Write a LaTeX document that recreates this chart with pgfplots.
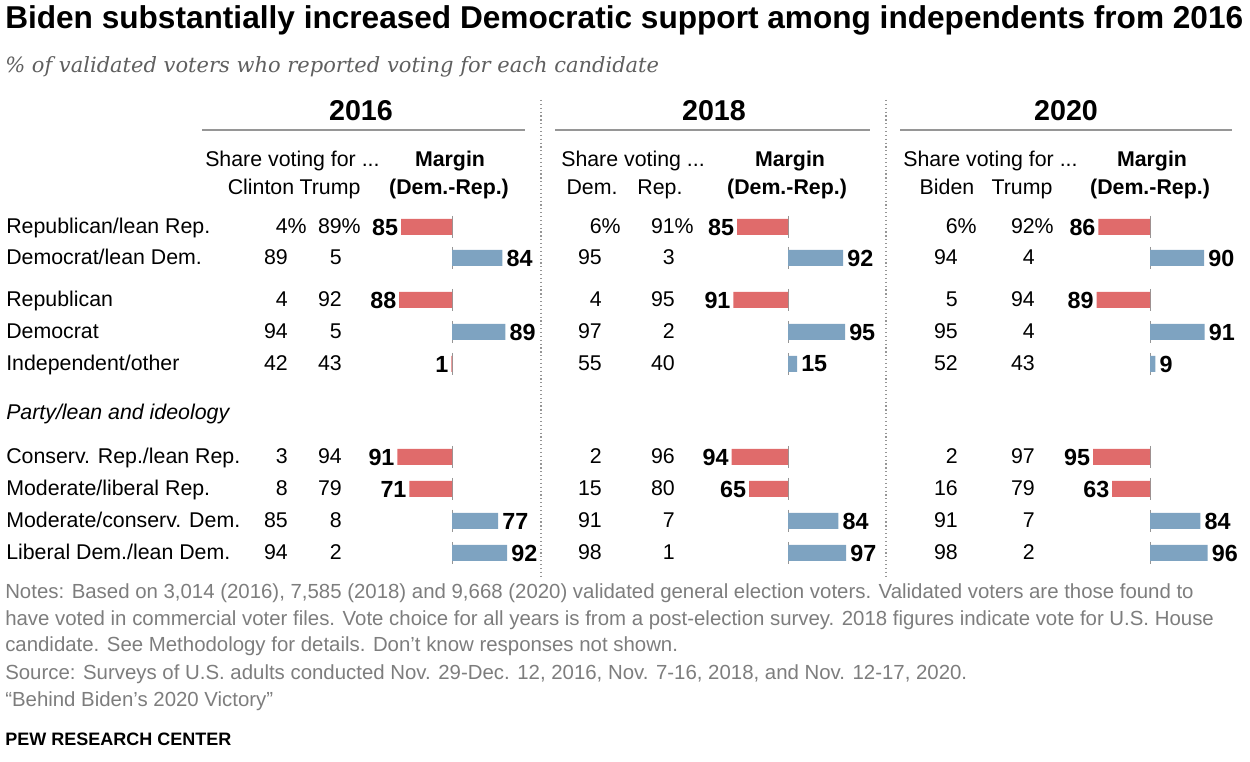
\documentclass[border=0pt]{standalone}
\usepackage{pgfplots}
\pgfplotsset{compat=1.18}
\usepackage{fontspec}
\setmainfont{Liberation Sans}
\newfontfamily\subfont{DejaVu Serif}
\definecolor{redb}{RGB}{224,107,107}
\definecolor{blueb}{RGB}{126,163,193}
\definecolor{notegray}{RGB}{125,125,125}
\definecolor{subgray}{RGB}{95,95,95}
\definecolor{rulegray}{RGB}{150,150,150}
\newcommand{\fs}[1]{\fontsize{#1}{#1}\selectfont}

\pgfplotstableread{
x y m
-85 -227 85
-88 -300 88
-1 -364 1
-91 -457 91
-71 -489 71
}\redA
\pgfplotstableread{
x y m
84 -258 84
89 -332 89
77 -521 77
92 -553 92
}\blueA
\pgfplotstableread{
x y m
-85 -227 85
-91 -300 91
-94 -457 94
-65 -489 65
}\redB
\pgfplotstableread{
x y m
92 -258 92
95 -332 95
15 -364 15
84 -521 84
97 -553 97
}\blueB
\pgfplotstableread{
x y m
-86 -227 86
-89 -300 89
-95 -457 95
-63 -489 63
}\redC
\pgfplotstableread{
x y m
90 -258 90
91 -332 91
9 -364 9
84 -521 84
96 -553 96
}\blueC

\pgfplotsset{
  marginaxis/.style={
    scale only axis, width=90pt, height=285pt,
    xmin=-100, xmax=100, ymin=-580, ymax=-200,
    hide axis, clip=false, anchor=south west
  },
  redbar/.style={xbar, bar shift=0pt, bar width=12pt, fill=redb, draw=none,
    point meta=explicit symbolic, nodes near coords,
    every node near coord/.append style={anchor=east, font=\fs{17.5pt}\bfseries, text=black, inner sep=2pt}},
  bluebar/.style={xbar, bar shift=0pt, bar width=12pt, fill=blueb, draw=none,
    point meta=explicit symbolic, nodes near coords,
    every node near coord/.append style={anchor=west, font=\fs{17.5pt}\bfseries, text=black, inner sep=3pt}},
}

\begin{document}
\begin{tikzpicture}
\begin{scope}[x=0.75pt,y=-0.75pt]
\useasboundingbox (0,0) rectangle (1250,762);

% title and subtitle
\node[anchor=base west, inner sep=0] at (5,29) {\fs{23.7pt}\bfseries Biden substantially increased Democratic support among independents from 2016};
\node[anchor=base west, inner sep=0, text=subgray] at (5,73) {\subfont\itshape\fs{15.75pt}\% of validated voters who reported voting for each candidate};

% separators
\draw[rulegray, line width=0.9pt, dotted] (541,100) -- (541,576);
\draw[rulegray, line width=0.9pt, dotted] (886,100) -- (886,576);

% year headers
\node[anchor=base, inner sep=0] at (361,121) {\fs{21.5pt}\bfseries 2016};
\node[anchor=base, inner sep=0] at (714,121) {\fs{21.5pt}\bfseries 2018};
\node[anchor=base, inner sep=0] at (1066,121) {\fs{21.5pt}\bfseries 2020};
\draw[rulegray, line width=1.5pt] (202,130) -- (525,130);
\draw[rulegray, line width=1.5pt] (555,130) -- (870,130);
\draw[rulegray, line width=1.5pt] (900,130) -- (1232,130);

% column headers
\begin{scope}[every node/.style={inner sep=0}]
\node[anchor=base west] at (205,167) {\fs{16pt}Share voting for ...};
\node[anchor=base] at (450,167) {\fs{16pt}\bfseries Margin};
\node[anchor=base] at (261,195) {\fs{16pt}Clinton};
\node[anchor=base] at (330,195) {\fs{16pt}Trump};
\node[anchor=base] at (449,195) {\fs{16pt}\bfseries (Dem.-Rep.)};
\node[anchor=base west] at (561,167) {\fs{16pt}Share voting ...};
\node[anchor=base] at (790,167) {\fs{16pt}\bfseries Margin};
\node[anchor=base] at (592,195) {\fs{16pt}Dem.};
\node[anchor=base] at (660,195) {\fs{16pt}Rep.};
\node[anchor=base] at (787,195) {\fs{16pt}\bfseries (Dem.-Rep.)};
\node[anchor=base west] at (903,167) {\fs{16pt}Share voting for ...};
\node[anchor=base] at (1152,167) {\fs{16pt}\bfseries Margin};
\node[anchor=base] at (947,195) {\fs{16pt}Biden};
\node[anchor=base] at (1022,195) {\fs{16pt}Trump};
\node[anchor=base] at (1150,195) {\fs{16pt}\bfseries (Dem.-Rep.)};

% row labels
\foreach \yy/\lab in {227/{Republican/lean Rep.}, 258/{Democrat/lean Dem.}, 300/{Republican}, 332/{Democrat}, 364/{Independent/other}, 457/{Conserv. Rep./lean Rep.}, 489/{Moderate/liberal Rep.}, 521/{Moderate/conserv. Dem.}, 553/{Liberal Dem./lean Dem.}}
  \node[anchor=base west] at (6,\yy+7) {\fs{16pt}\lab};
\node[anchor=base west] at (6,420) {\fs{16pt}\itshape Party/lean and ideology};

% share columns
\foreach \yy/\a/\b/\c/\d/\e/\f in {
  227/4\rlap{\%}/89\rlap{\%}/6\rlap{\%}/91\rlap{\%}/6\rlap{\%}/92\rlap{\%},
  258/89/5/95/3/94/4,
  300/4/92/4/95/5/94,
  332/94/5/97/2/95/4,
  364/42/43/55/40/52/43,
  457/3/94/2/96/2/97,
  489/8/79/15/80/16/79,
  521/85/8/91/7/91/7,
  553/94/2/98/1/98/2}{
  \node[anchor=base east] at (288,\yy+7) {\fs{16pt}\a};
  \node[anchor=base east] at (342,\yy+7) {\fs{16pt}\b};
  \node[anchor=base east] at (602,\yy+7) {\fs{16pt}\c};
  \node[anchor=base east] at (675,\yy+7) {\fs{16pt}\d};
  \node[anchor=base east] at (958,\yy+7) {\fs{16pt}\e};
  \node[anchor=base east] at (1035,\yy+7) {\fs{16pt}\f};
}
\end{scope}

% zero lines
\foreach \x in {452,788,1150}
  \foreach \yy in {227,258,300,332,364,457,489,521,553}
    \draw[rulegray, line width=0.6pt] (\x,\yy-11) -- (\x,\yy+11);

% notes
\begin{scope}[every node/.style={anchor=base west, inner sep=0, text=notegray}]
\node at (5,599) {\fs{15.3pt}Notes: Based on 3,014 (2016), 7,585 (2018) and 9,668 (2020) validated general election voters. Validated voters are those found to};
\node at (5,626) {\fs{15.3pt}have voted in commercial voter files. Vote choice for all years is from a post-election survey. 2018 figures indicate vote for U.S. House};
\node at (5,652) {\fs{15.3pt}candidate. See Methodology for details. Don’t know responses not shown.};
\node at (5,679) {\fs{15.3pt}Source: Surveys of U.S. adults conducted Nov. 29-Dec. 12, 2016, Nov. 7-16, 2018, and Nov. 12-17, 2020.};
\node at (5,706) {\fs{15.3pt}“Behind Biden’s 2020 Victory”};
\end{scope}
\node[anchor=base west, inner sep=0] at (5,745) {\fs{13.5pt}\bfseries PEW RESEARCH CENTER};
\end{scope}

% margin bars
\begin{axis}[marginaxis, at={(294pt,-435pt)}]
\addplot[redbar] table[x=x,y=y,meta=m] {\redA};
\addplot[bluebar] table[x=x,y=y,meta=m] {\blueA};
\end{axis}
\begin{axis}[marginaxis, at={(546pt,-435pt)}]
\addplot[redbar] table[x=x,y=y,meta=m] {\redB};
\addplot[bluebar] table[x=x,y=y,meta=m] {\blueB};
\end{axis}
\begin{axis}[marginaxis, at={(817.5pt,-435pt)}]
\addplot[redbar] table[x=x,y=y,meta=m] {\redC};
\addplot[bluebar] table[x=x,y=y,meta=m] {\blueC};
\end{axis}
\end{tikzpicture}
\end{document}
